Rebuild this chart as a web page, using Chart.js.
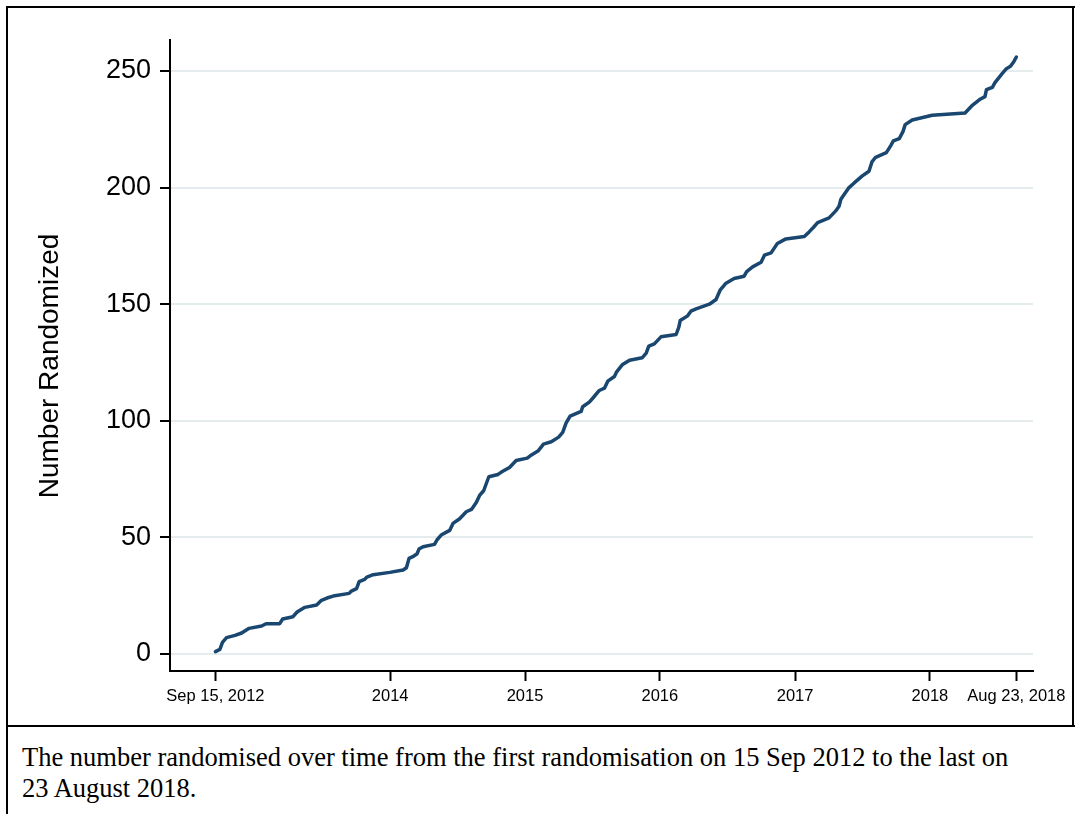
<!DOCTYPE html>
<html>
<head>
<meta charset="utf-8">
<script src="https://cdn.jsdelivr.net/npm/chart.js@4/dist/chart.umd.min.js"></script>
<style>
  body { margin: 0; background: #fff; width: 1075px; height: 814px; overflow: hidden; position: relative; }
  .rule { position: absolute; background: #000; }
  #plot { position: absolute; left: 0; top: 0; width: 1075px; height: 725px; }
  #caption {
    position: absolute; left: 22px; top: 742px; width: 1000px;
    font-family: "Liberation Serif", "Times New Roman", serif; font-size: 26.5px; line-height: 31px; color: #000;
  }
</style>
</head>
<body>
<div class="rule" style="left:6px;top:6px;width:1069px;height:2px"></div>
<div class="rule" style="left:6px;top:6px;width:2px;height:808px"></div>
<div class="rule" style="left:1072px;top:6px;width:2px;height:721px"></div>
<div class="rule" style="left:6px;top:725px;width:1069px;height:2px"></div>
<div id="plot"><canvas id="chart"></canvas></div>
<div id="caption">The number randomised over time from the first randomisation on 15 Sep 2012 to the last on 23 August 2018.</div>

<script>
// study day (days since first randomisation, 15 Sep 2012) and cumulative count
const studyDay = [
  0, 12, 19, 30, 53, 71, 91, 125, 137, 174, 182, 210, 221, 242, 274, 287, 302, 323, 362, 368,
  382, 389, 404, 410, 427, 472, 508, 517, 524, 537, 546, 551, 562, 593, 600, 611, 634, 643, 661, 679,
  693, 706, 715, 726, 740, 765, 774, 796, 814, 844, 852, 873, 888, 909, 929, 940, 949, 960, 990, 994,
  1012, 1023, 1039, 1053, 1062, 1080, 1086, 1101, 1121, 1155, 1166, 1173, 1188, 1206, 1247, 1254, 1258, 1278, 1287, 1301,
  1337, 1355, 1366, 1382, 1404, 1431, 1438, 1454, 1477, 1486, 1504, 1521, 1544, 1594, 1607, 1619, 1630, 1661, 1679, 1688,
  1693, 1706, 1715, 1729, 1751, 1769, 1777, 1787, 1816, 1828, 1835, 1851, 1861, 1867, 1886, 1940, 2029, 2047, 2071, 2083,
  2087, 2103, 2110, 2130, 2141, 2152, 2161, 2168
];
const numberRandomized = [
  1, 2, 5, 7, 8, 9, 11, 12, 13, 13, 15, 16, 18, 20, 21, 23, 24, 25, 26, 27,
  28, 31, 32, 33, 34, 35, 36, 37, 41, 42, 43, 45, 46, 47, 49, 51, 53, 56, 58, 61,
  62, 65, 68, 70, 76, 77, 78, 80, 83, 84, 85, 87, 90, 91, 93, 95, 99, 102, 104, 106,
  108, 110, 113, 114, 117, 119, 121, 124, 126, 127, 129, 132, 133, 136, 137, 140, 143, 145, 147, 148,
  150, 152, 156, 159, 161, 162, 164, 166, 168, 171, 172, 176, 178, 179, 181, 183, 185, 187, 190, 192,
  195, 198, 200, 202, 205, 207, 211, 213, 215, 218, 220, 221, 224, 227, 229, 231, 232, 235, 238, 239,
  242, 243, 245, 249, 251, 252, 254, 256
];

const tickDates = ['2012-09-15', '2014-01-01', '2015-01-01', '2016-01-01', '2017-01-01', '2018-01-01', '2018-08-23'];
const tickLabels = ['Sep 15, 2012', '2014', '2015', '2016', '2017', '2018', 'Aug 23, 2018'];
const yTicks = [0, 50, 100, 150, 200, 250];

const dayOf = s => (Date.parse(s + 'T00:00:00Z') - Date.parse('2012-09-15T00:00:00Z')) / 864e5;
const xTicks = tickDates.map(dayOf);

const sans = '"Liberation Sans", Arial, Helvetica, sans-serif';

// y title drawn by hand so it can sit where Stata puts it
const yTitle = {
  id: 'yTitle',
  afterDraw(chart) {
    const ctx = chart.ctx;
    ctx.save();
    ctx.translate(58, 366);
    ctx.rotate(-Math.PI / 2);
    ctx.font = '28px ' + sans;
    ctx.fillStyle = '#000';
    ctx.textAlign = 'center';
    ctx.textBaseline = 'alphabetic';
    ctx.fillText('Number Randomized', 0, 0);
    ctx.restore();
  }
};

new Chart(document.getElementById('chart'), {
  type: 'line',
  data: {
    datasets: [{
      data: studyDay.map((d, i) => ({ x: d, y: numberRandomized[i] })),
      borderColor: '#1a476f',
      borderWidth: 3.5,
      borderJoinStyle: 'round',
      borderCapStyle: 'round',
      pointRadius: 0,
      tension: 0,
      fill: false
    }]
  },
  options: {
    responsive: true,
    maintainAspectRatio: false,
    animation: false,
    layout: { padding: { top: 40, right: 42, left: 0, bottom: 0 } },
    plugins: { legend: { display: false }, tooltip: { enabled: false } },
    scales: {
      x: {
        type: 'linear',
        min: -123,
        max: 2213,
        afterBuildTicks: s => { s.ticks = xTicks.map(v => ({ value: v })); },
        afterFit: s => { s.height = 54; },
        border: { display: true, color: '#000', width: 2 },
        grid: { drawOnChartArea: false, drawTicks: true, tickLength: 10, tickColor: '#000', tickWidth: 2 },
        ticks: {
          autoSkip: false, maxRotation: 0, padding: 6, color: '#000',
          font: { family: sans, size: 16.5 },
          callback: v => tickLabels[xTicks.indexOf(v)]
        }
      },
      y: {
        min: -7.29,
        max: 263.29,
        afterBuildTicks: s => { s.ticks = yTicks.map(v => ({ value: v })); },
        afterFit: s => { s.width = 170; },
        border: { display: true, color: '#000', width: 2 },
        grid: { color: '#e4eced', lineWidth: 2, drawTicks: true, tickLength: 10, tickColor: '#000', tickWidth: 2 },
        ticks: { padding: 9, color: '#000', font: { family: sans, size: 27 } }
      }
    }
  },
  plugins: [yTitle]
});
</script>
</body>
</html>
